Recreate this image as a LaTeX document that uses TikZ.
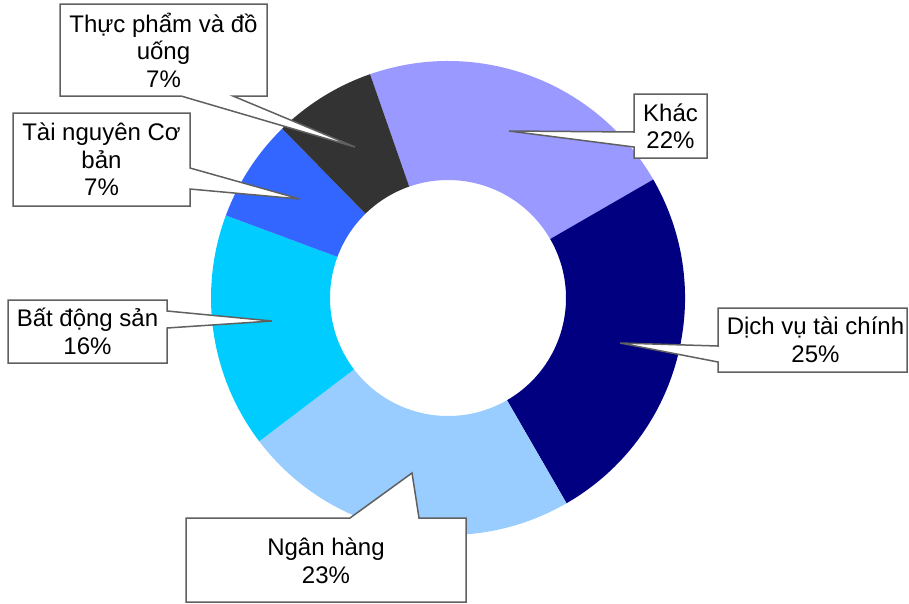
\documentclass[tikz,border=0pt]{standalone}
\usepackage{fontspec}
\setmainfont{Liberation Sans}
\definecolor{cKhac}{HTML}{9999FF}
\definecolor{cDichvu}{HTML}{000080}
\definecolor{cNganhang}{HTML}{99CCFF}
\definecolor{cBds}{HTML}{00CCFF}
\definecolor{cTainguyen}{HTML}{3366FF}
\definecolor{cThucpham}{HTML}{333333}
\definecolor{cEdge}{HTML}{606060}
\begin{document}
\begin{tikzpicture}[x=1pt,y=-1pt,
  callout/.style={draw=cEdge,fill=white,line width=1.5pt,line join=miter},
  lbl/.style={align=center,inner sep=0pt,font=\fontsize{24}{27.5}\selectfont}]
\useasboundingbox (0,0) rectangle (909,603);
% donut
\newcommand{\donutslice}[3]{%
  \fill[#1] (#2:237) arc[start angle=#2,end angle=#3,radius=237]
    -- (#3:118) arc[start angle=#3,end angle=#2,radius=118] -- cycle;}
\begin{scope}[shift={(448,298)}]
  \donutslice{cKhac}{-109.2}{-30}
  \donutslice{cDichvu}{-30}{60}
  \donutslice{cNganhang}{60}{142.8}
  \donutslice{cBds}{142.8}{200.4}
  \donutslice{cTainguyen}{200.4}{225.6}
  \donutslice{cThucpham}{225.6}{250.8}
\end{scope}
% callout tips
\coordinate (tThuc) at (355,147);
\coordinate (tTai) at (300,199);
\coordinate (tBds) at (272,321);
\coordinate (tNgan) at (412,473);
\coordinate (tKhac) at (509,131);
\coordinate (tDich) at (620,343);
% callouts
\draw[callout] (60,4) -- (267,4) -- (267,96) -- (233,96) -- (tThuc) -- (181,96) -- (60,96) -- cycle;
\node[lbl] (lThuc) at (163.5,50) {Thực phẩm và đồ\\uống\\7\%};
\draw[callout] (13,113) -- (190,113) -- (190,168) -- (tTai) -- (190,189) -- (190,206) -- (13,206) -- cycle;
\node[lbl] (lTai) at (101.5,159.5) {Tài nguyên Cơ\\bản\\7\%};
\draw[callout] (8,300) -- (167,300) -- (167,311) -- (tBds) -- (167,328) -- (167,363) -- (8,363) -- cycle;
\node[lbl] (lBds) at (87.5,331.5) {Bất động sản\\16\%};
\draw[callout] (186,518) -- (350,518) -- (tNgan) -- (419,518) -- (466,518) -- (466,602) -- (186,602) -- cycle;
\node[lbl] (lNgan) at (326,561) {Ngân hàng\\23\%};
\draw[callout] (634,94) -- (707,94) -- (707,158) -- (634,158) -- (634,147) -- (tKhac) -- (634,132) -- cycle;
\node[lbl] (lKhac) at (670.5,126) {Khác\\22\%};
\draw[callout] (718,308) -- (907,308) -- (907,372) -- (718,372) -- (718,362) -- (tDich) -- (718,346) -- cycle;
\node[lbl] (lDich) at (815.5,340) {Dịch vụ tài chính\\25\%};
\end{tikzpicture}
\end{document}
